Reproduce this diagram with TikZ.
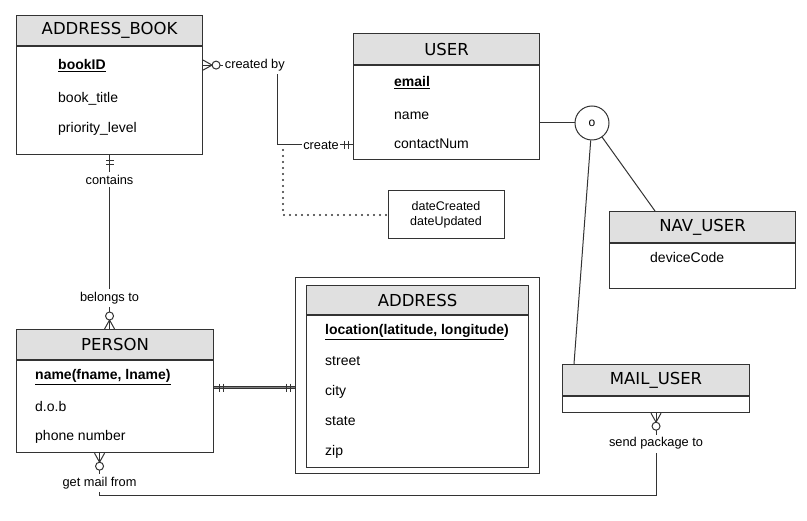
\documentclass[tikz,border=0pt]{standalone}
\usepackage{fontspec}
\setmainfont{Liberation Sans}
\newfontfamily\headfont{DejaVu Sans}
\usetikzlibrary{positioning,decorations.markings}

\definecolor{linec}{HTML}{333333}
\definecolor{headc}{HTML}{E0E0E0}

\tikzset{
  ehead/.style={draw=linec, fill=headc, line width=1.1pt, inner sep=0pt, font=\headfont\fontsize{16.5}{18}\selectfont},
  ebody/.style={draw=linec, fill=white, line width=1.1pt, inner sep=0pt},
  attr/.style={inner sep=0pt, anchor=base west, font=\fontsize{14}{16}\selectfont},
  lbl/.style={fill=white, inner xsep=1.5pt, inner ysep=3pt, font=\fontsize{12.8}{14}\selectfont},
  conn/.style={draw=linec, line width=1pt},
  reldot/.style={draw=linec, line width=2.2pt, line cap=round, dash pattern=on 0pt off 6pt},
  onestart/.style={postaction={decorate, decoration={markings, mark=at position 0 with {\draw[conn] (5,-4) -- (5,4) (9,-4) -- (9,4);}}}},
  oneend/.style={postaction={decorate, decoration={markings, mark=at position 1 with {\draw[conn] (-5,-4) -- (-5,4) (-9,-4) -- (-9,4);}}}},
  manystart/.style={postaction={decorate, decoration={markings, mark=at position 0 with {\draw[conn] (0,-5) -- (9,0) -- (0,5); \draw[conn, fill=white] (13,0) circle[radius=4pt];}}}},
  manyend/.style={postaction={decorate, decoration={markings, mark=at position 1 with {\draw[conn] (0,-5) -- (-9,0) -- (0,5); \draw[conn, fill=white] (-13,0) circle[radius=4pt];}}}},
}

\begin{document}
\begin{tikzpicture}[x=1pt, y=-1pt]
\useasboundingbox (0,0) rectangle (807,521);

% ADDRESS_BOOK
\node[ehead, minimum width=186pt, minimum height=30pt, anchor=north west] (abH) at (16,15) {ADDRESS\_BOOK};
\node[ebody, minimum width=186pt, minimum height=108pt, below=0pt of abH] (abB) {};
\node[attr] (abK) at (58,70) {\textbf{\underline{bookID}}};
\node[attr, below=33pt of abK.base west, anchor=base west] (abT) {book\_title};
\node[attr, below=30pt of abT.base west, anchor=base west] (abP) {priority\_level};

% USER
\node[ehead, minimum width=186pt, minimum height=31pt, anchor=north west] (usH) at (353,33) {USER};
\node[ebody, minimum width=186pt, minimum height=94pt, below=0pt of usH] (usB) {};
\node[attr] (usK) at (394,87) {\textbf{\underline{email}}};
\node[attr, below=33pt of usK.base west, anchor=base west] (usN) {name};
\node[attr, below=29pt of usN.base west, anchor=base west] (usC) {contactNum};

% NAV_USER
\node[ehead, minimum width=186pt, minimum height=31pt, anchor=north west] (nvH) at (609,211) {NAV\_USER};
\node[ebody, minimum width=186pt, minimum height=45pt, below=0pt of nvH] (nvB) {};
\node[attr] (nvD) at (650,263) {deviceCode};

% ADDRESS (weak)
\node[ebody, minimum width=244pt, minimum height=196pt, anchor=north west] (adO) at (295,277) {};
\node[ehead, minimum width=222pt, minimum height=29pt, anchor=north west] (adH) at (306,285) {ADDRESS};
\node[ebody, minimum width=222pt, minimum height=152pt, below=0pt of adH] (adB) {};
\node[attr] (adK) at (325,335) {\textbf{\underline{location(latitude, longitude})}};
\node[attr, below=31pt of adK.base west, anchor=base west] (adS) {street};
\node[attr, below=30pt of adS.base west, anchor=base west] (adC) {city};
\node[attr, below=30pt of adC.base west, anchor=base west] (adT) {state};
\node[attr, below=30pt of adT.base west, anchor=base west] (adZ) {zip};

% PERSON
\node[ehead, minimum width=197pt, minimum height=30pt, anchor=north west] (peH) at (16,329) {PERSON};
\node[ebody, minimum width=197pt, minimum height=92pt, below=0pt of peH] (peB) {};
\node[attr] (peK) at (35,380) {\textbf{\underline{name(fname, lname)}}};
\node[attr, below=32pt of peK.base west, anchor=base west] (peD) {d.o.b};
\node[attr, below=29pt of peD.base west, anchor=base west] (peP) {phone number};

% MAIL_USER
\node[ehead, minimum width=187pt, minimum height=31pt, anchor=north west] (muH) at (562,364) {MAIL\_USER};
\node[ebody, minimum width=187pt, minimum height=16pt, below=0pt of muH] (muB) {};

% relationship attributes, disjointness
\node[ebody, line width=1pt, minimum width=116pt, minimum height=48pt, align=center, font=\fontsize{12.5}{15}\selectfont] (dates) at (446,215) {dateCreated\\dateUpdated};
\node[draw=linec, line width=1pt, circle, minimum size=34pt, inner sep=0pt, font=\fontsize{12}{14}\selectfont] (isa) at (592,123) {o};

% connectors
\coordinate (cb) at (277,145);
\coordinate (rel) at (283,150);
\path (muB.south) ++(0,82) coordinate (low);

\draw[conn, manystart, oneend] ([yshift=-19pt]abB.north east) -| node[lbl, pos=0.35] {created by} (cb) -- node[lbl, pos=0.58] {create} (cb -| usB.west);
\draw[reldot] (rel) |- (dates.west);
\draw[conn, onestart, manyend] (abB.south) -- node[lbl, pos=0.14] {contains} node[lbl, pos=0.82] {belongs to} (abB.south |- peH.north);
\draw[conn, double=gray, double distance=1.2pt, onestart, oneend] ([yshift=19pt]peB.east) -- ([yshift=19pt]peB.east -| adO.west);
\draw[conn, manystart, manyend] ([xshift=-15.5pt]peB.south) |- node[lbl, pos=0.36] {get mail from} (low) -- node[lbl, pos=0.63] {send package to} (muB.south);
\draw[conn] (isa.west) -- (isa.west -| usB.east);
\draw[conn] (isa) -- ([xshift=12pt]muH.north west);
\draw[conn] (isa) -- ([xshift=46pt]nvH.north west);
\end{tikzpicture}
\end{document}
